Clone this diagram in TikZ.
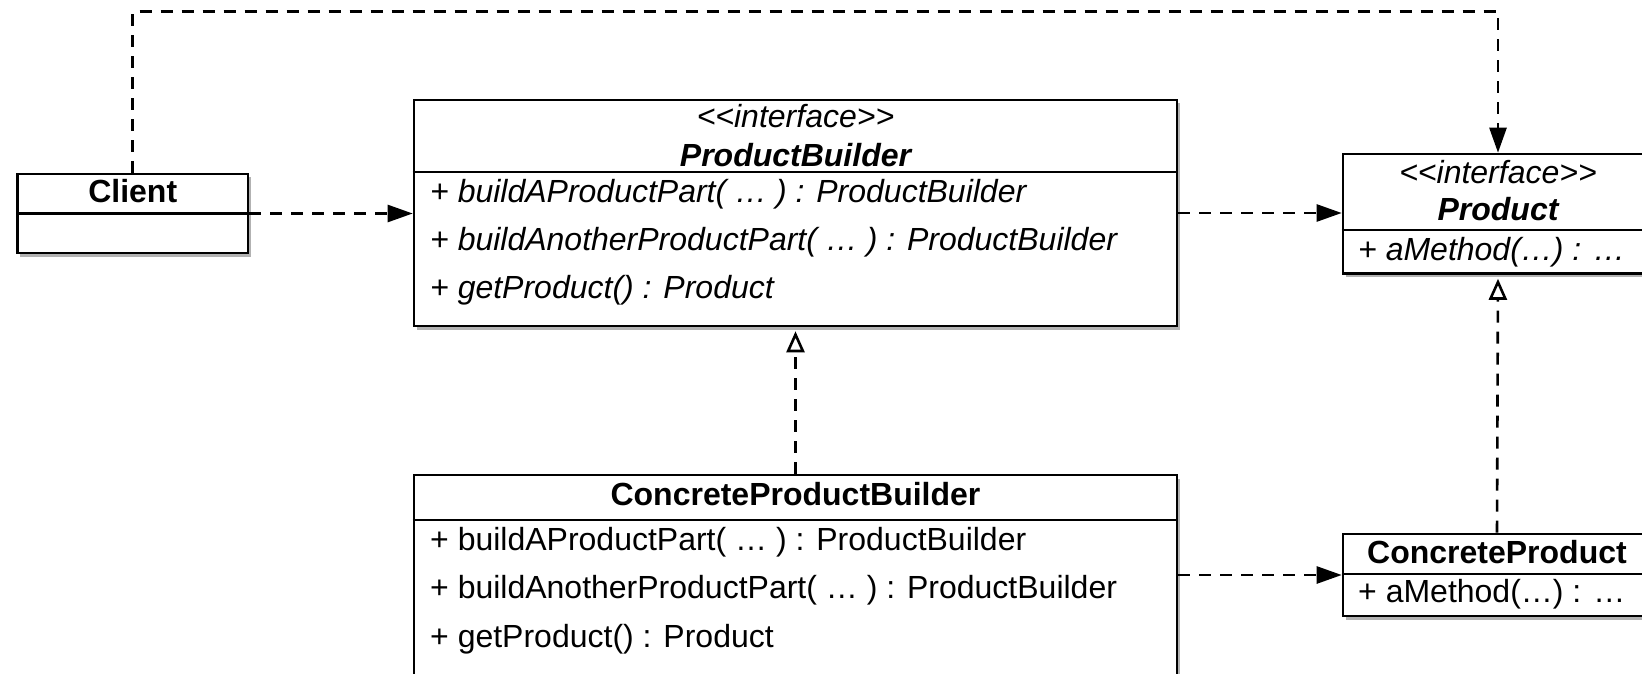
\documentclass[tikz,border=0pt]{standalone}
\usepackage{fontspec}
\setmainfont{Liberation Sans}
\usetikzlibrary{arrows.meta,shadows}
\tikzset{
  umlbox/.style={draw=black, line width=2.6pt, fill=white, inner sep=0pt,
    drop shadow={shadow xshift=2.5pt, shadow yshift=-3.5pt, opacity=0.3, fill=black}},
  divider/.style={line width=2.4pt},
  dep/.style={line width=2.6pt, dash pattern=on 12pt off 9pt,
    -{Triangle[length=25pt,width=17pt]}},
  realize/.style={line width=2.6pt, dash pattern=on 12pt off 9pt,
    -{Triangle[open,length=21pt,width=18pt,fill=white]}, shorten >=4pt},
  txt/.style={inner sep=0pt, font=\fontsize{32}{38}\selectfont},
}
\newcommand{\stereo}{<\kern0pt<interface>\kern0pt>}
\begin{document}
\begin{tikzpicture}[x=1pt,y=-1pt]
\useasboundingbox (0,0) rectangle (1642,674);
\fill[white] (0,0) rectangle (1642,674);
\clip (0,0) rectangle (1642,674);

% boxes
\node[umlbox, minimum width=230.5pt, minimum height=79pt] (client) at (132.75,213.5) {};
\node[umlbox, minimum width=763pt, minimum height=226pt] (pb) at (795.5,213) {};
\node[umlbox, minimum width=310pt, minimum height=119.5pt] (product) at (1498,213.75) {};
\node[umlbox, minimum width=763pt, minimum height=226pt] (cpb) at (795.5,588) {};
\node[umlbox, minimum width=308pt, minimum height=82pt] (cp) at (1497,575) {};

% dividers
\draw[divider] (client.west) -- (client.east);
\draw[divider] (pb.west |- 0,172) -- (pb.east |- 0,172);
\draw[divider] (product.west |- 0,230) -- (product.east |- 0,230);
\draw[divider] (cpb.west |- 0,520) -- (cpb.east |- 0,520);
\draw[divider] (cp.west |- 0,574) -- (cp.east |- 0,574);

% connectors
\coordinate (topleft) at (132.75,11.5);
\draw[dep] (client.north) -- (topleft) -| (product.north);
\draw[dep] (client.east) -- (client.east -| pb.west);
\draw[dep] (pb.east) -- (pb.east -| product.west);
\draw[dep] (cp.west -| cpb.east) -- (cp.west);
\draw[realize] (cpb.north) -- (pb.south);
\draw[realize] (cp.north) -- (product.south);

% texts
\node[txt, anchor=base] (clientname) at (132.75,203) {\bfseries Client};

\node[txt, anchor=base] (pbst) at (795.5,128) {\itshape\stereo};
\node[txt, anchor=base] (pbname) at (795.5,167) {\bfseries\itshape ProductBuilder};
\node[txt, anchor=base west] (pbm1) at (430,202) {\itshape + buildAProductPart( … ) : ProductBuilder};
\node[txt, anchor=base west] (pbm2) at (430,250) {\itshape + buildAnotherProductPart( … ) : ProductBuilder};
\node[txt, anchor=base west] (pbm3) at (430,298) {\itshape + getProduct() : Product};

\node[txt, anchor=base] (prst) at (1498,183) {\itshape\stereo};
\node[txt, anchor=base] (prname) at (1498,220) {\bfseries\itshape Product};
\node[txt, anchor=base west] (prm1) at (1358,260) {\itshape + aMethod(…) : …};

\node[txt, anchor=base] (cpbname) at (795.5,505) {\bfseries ConcreteProductBuilder};
\node[txt, anchor=base west] (cpbm1) at (430,550) {+ buildAProductPart( … ) : ProductBuilder};
\node[txt, anchor=base west] (cpbm2) at (430,598) {+ buildAnotherProductPart( … ) : ProductBuilder};
\node[txt, anchor=base west] (cpbm3) at (430,647) {+ getProduct() : Product};

\node[txt, anchor=base] (cpname) at (1497,563) {\bfseries ConcreteProduct};
\node[txt, anchor=base west] (cpm1) at (1358,602) {+ aMethod(…) : …};
\end{tikzpicture}
\end{document}
